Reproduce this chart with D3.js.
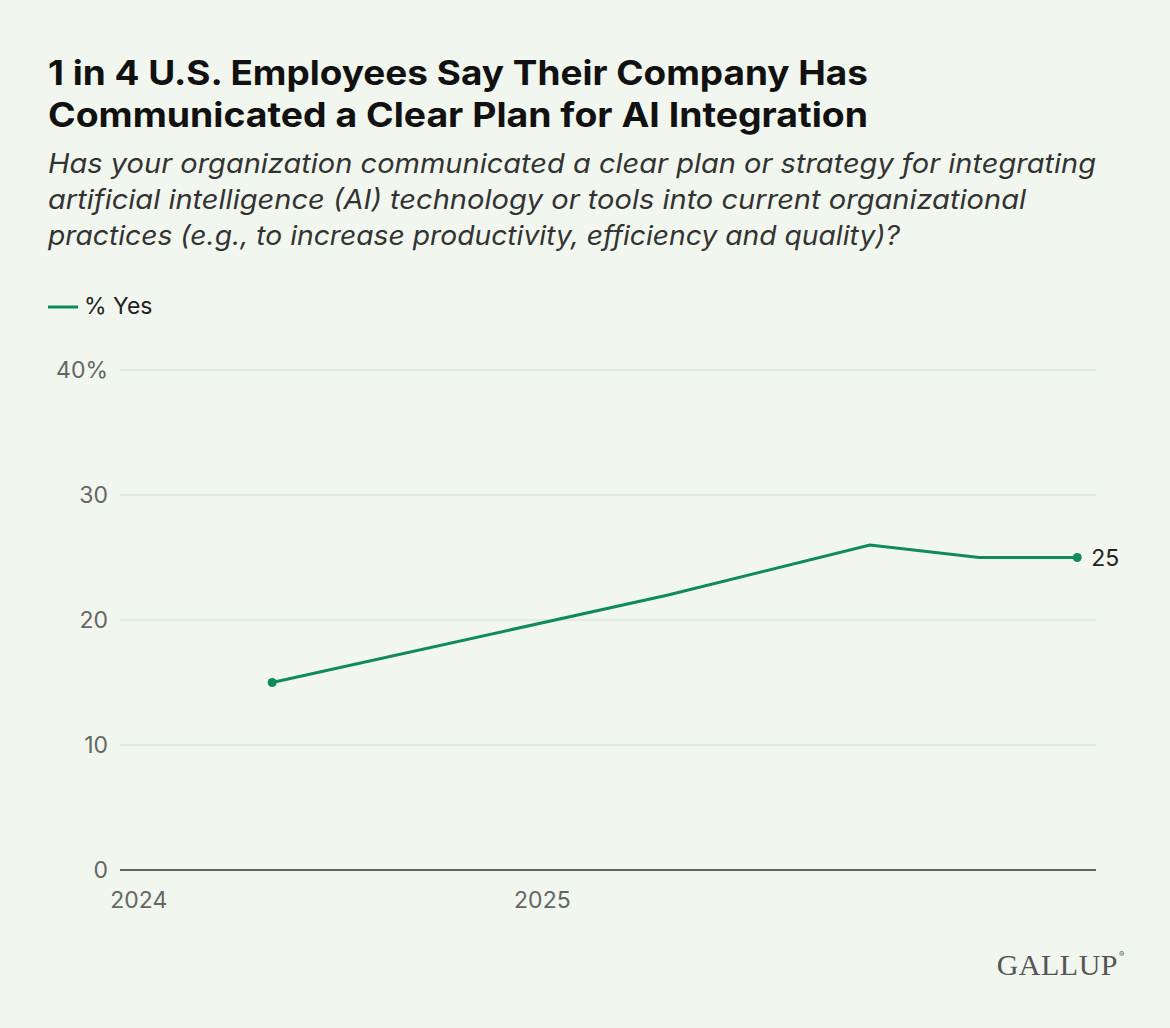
<!DOCTYPE html>
<html><head><meta charset="utf-8">
<script src="https://cdn.jsdelivr.net/npm/d3@7"></script>
<style>
body{margin:0;background:#f1f7ef;font-family:Inter,"Noto Sans",sans-serif;}
</style></head>
<body><svg id="chart" width="1170" height="1028"></svg>
<script>
var dates = ["2024-05-01","2025-04-25","2025-10-25","2026-02-01","2026-05-01"];
var values = [15, 22, 26, 25, 25];
var yTicks = [0, 10, 20, 30, 40];
var xTicks = ["2024-01-01","2025-01-01"];
var green = "#0f8a5a";

var parse = d3.timeParse("%Y-%m-%d");
var svg = d3.select("#chart");
svg.append("rect").attr("width",1170).attr("height",1028).attr("fill","#f1f7ef");

//title
var title = ["1 in 4 U.S. Employees Say Their Company Has", "Communicated a Clear Plan for AI Integration"];
var titleW = [820, 820];
title.forEach(function(s,i){
  svg.append("text").attr("x",48).attr("y",85+i*42).attr("font-size",34).attr("font-weight",700).attr("fill","#111")
    .attr("textLength",titleW[i]).attr("lengthAdjust","spacingAndGlyphs").text(s);
});
var sub = ["Has your organization communicated a clear plan or strategy for integrating",
  "artificial intelligence (AI) technology or tools into current organizational",
  "practices (e.g., to increase productivity, efficiency and quality)?"];
var subW = [1048, 978, 852];
sub.forEach(function(s,i){
  svg.append("text").attr("x",48).attr("y",173+i*36).attr("font-size",27).attr("font-style","italic").attr("fill","#333")
    .attr("textLength",subW[i]).attr("lengthAdjust","spacingAndGlyphs").text(s);
});

//legend
svg.append("line").attr("x1",48).attr("x2",78).attr("y1",307).attr("y2",307).attr("stroke",green).attr("stroke-width",3);
svg.append("text").attr("x",84).attr("y",314).attr("font-size",23).attr("fill","#222").text("% Yes");

var x = d3.scaleTime().domain([parse("2023-12-15"), parse("2026-05-18")]).range([120,1096]);
var y = d3.scaleLinear().domain([0,40]).range([870,370]);

yTicks.forEach(function(t){
  svg.append("line").attr("x1",120).attr("x2",1096).attr("y1",y(t)).attr("y2",y(t))
    .attr("stroke", t===0 ? "#333" : "#d3ddd3").attr("stroke-width", t===0 ? 1.5 : 1);
  svg.append("text").attr("x",108).attr("y",y(t)+8).attr("text-anchor","end").attr("font-size",23).attr("fill","#666")
    .text(t===40 ? "40%" : t);
});
xTicks.forEach(function(t){
  svg.append("text").attr("x",x(parse(t))).attr("y",908).attr("text-anchor","middle").attr("font-size",23).attr("fill","#666")
    .text(t.slice(0,4));
});

var data = dates.map(function(d,i){ return {date: parse(d), v: values[i]}; });
var line = d3.line().x(function(d){return x(d.date);}).y(function(d){return y(d.v);});
svg.append("path").datum(data).attr("d",line).attr("fill","none").attr("stroke",green).attr("stroke-width",3);
[data[0], data[data.length-1]].forEach(function(d){
  svg.append("circle").attr("cx",x(d.date)).attr("cy",y(d.v)).attr("r",4.5).attr("fill",green);
});
var last = data[data.length-1];
svg.append("text").attr("x",x(last.date)+14).attr("y",y(last.v)+8).attr("font-size",23).attr("fill","#222").text(last.v);

svg.append("text").attr("x",1118).attr("y",975).attr("text-anchor","end").attr("font-size",30)
  .attr("font-family","'Liberation Serif',serif").attr("fill","#555").attr("letter-spacing",0.5).text("GALLUP");
svg.append("text").attr("x",1119).attr("y",957).attr("font-size",8).attr("fill","#555").text("®");
</script></body></html>
